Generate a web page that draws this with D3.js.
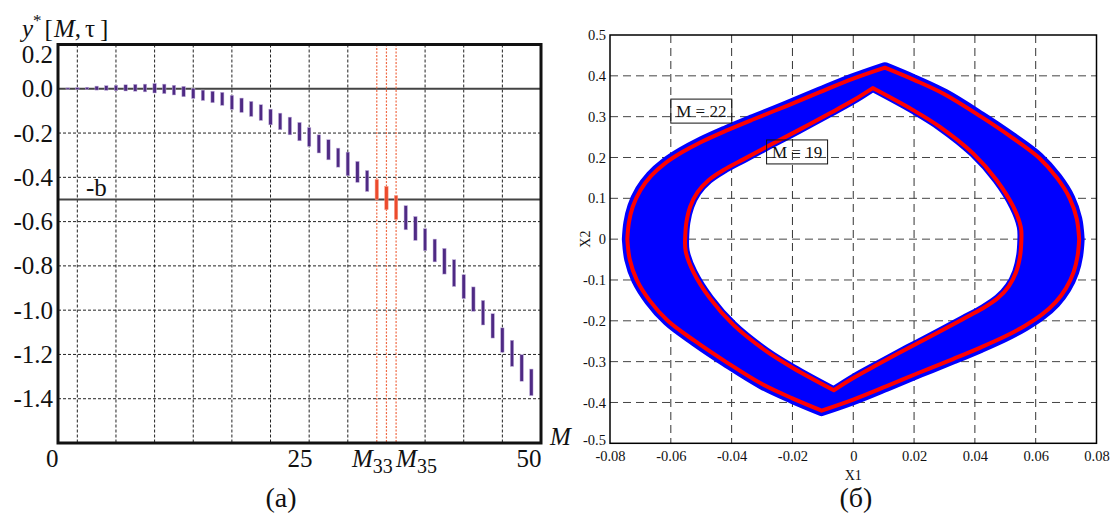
<!DOCTYPE html>
<html>
<head>
<meta charset="utf-8">
<title>y*[M,tau] and phase portrait</title>
<style>
  body { margin: 0; background: #fff; }
  svg text { font-family: "Liberation Serif", "Times New Roman", serif; fill: #111; }
</style>
</head>
<body>
<svg id="chart" width="1112" height="516"></svg>
<script src="https://cdn.jsdelivr.net/npm/d3@7"></script>
<script>
// ---------- panel (a): y*[M,tau] intervals ----------
var mIndex = [1,2,3,4,5,6,7,8,9,10,11,12,13,14,15,16,17,18,19,20,21,22,23,24,25,
              26,27,28,29,30,31,32,33,34,35,36,37,38,39,40,41,42,43,44,45,46,47,48,49];
var yLow  = [-0.002,-0.003,-0.003,-0.006,-0.007,-0.009,-0.010,-0.011,-0.014,-0.019,
             -0.022,-0.028,-0.036,-0.044,-0.053,-0.063,-0.075,-0.093,-0.107,-0.125,
             -0.143,-0.163,-0.185,-0.208,-0.235,-0.260,-0.290,-0.321,-0.354,-0.393,
             -0.423,-0.464,-0.501,-0.546,-0.590,-0.637,-0.685,-0.731,-0.782,-0.837,
             -0.893,-0.948,-1.005,-1.067,-1.126,-1.190,-1.254,-1.321,-1.386];
var yHigh = [0.004,0.005,0.007,0.012,0.014,0.016,0.018,0.020,0.021,0.024,
             0.021,0.016,0.011,0.002,-0.006,-0.011,-0.016,-0.030,-0.042,-0.057,
             -0.072,-0.092,-0.110,-0.128,-0.152,-0.175,-0.208,-0.230,-0.268,-0.286,
             -0.328,-0.369,-0.410,-0.441,-0.483,-0.528,-0.577,-0.632,-0.679,-0.721,
             -0.772,-0.840,-0.895,-0.956,-1.016,-1.080,-1.136,-1.201,-1.266];
var redM = [33, 34, 35];
var gridM = [2,6,10,14,18,22,26,30,34,38,42,46];
var gridYa = [-0.2,-0.4,-0.6,-0.8,-1.0,-1.2,-1.4];
var solidYa = [0, -0.5];
var yTicksA = [0.2,0.0,-0.2,-0.4,-0.6,-0.8,-1.0,-1.2,-1.4];
var xTicksA = [0, 25, 50];

// ---------- panel (б): phase portrait, M = 22 (outer) and M = 19 (inner) ----------
var outer22 = [
  [[-0.0743,0],[-0.0738,0.04],[-0.0725,0.08],[-0.0700,0.12],[-0.0665,0.155],[-0.0620,0.185],
   [-0.0565,0.212],[-0.0500,0.238],[-0.0420,0.265],[-0.0330,0.293],[-0.0220,0.326],[-0.0110,0.360],
   [0.0000,0.393],[0.0104,0.420]],
  [[0.0104,0.420],[0.020,0.390],[0.030,0.355],[0.042,0.300],[0.052,0.250],[0.061,0.200],
   [0.067,0.150],[0.0712,0.100],[0.0735,0.050],[0.0743,0]],
  [[0.0743,0],[0.0738,-0.04],[0.0725,-0.08],[0.0700,-0.12],[0.0665,-0.155],[0.0620,-0.185],
   [0.0565,-0.212],[0.0500,-0.238],[0.0420,-0.265],[0.0330,-0.293],[0.0220,-0.326],[0.0110,-0.360],
   [0.0000,-0.393],[-0.0104,-0.420]],
  [[-0.0104,-0.420],[-0.020,-0.390],[-0.030,-0.355],[-0.042,-0.300],[-0.052,-0.250],[-0.061,-0.200],
   [-0.067,-0.150],[-0.0712,-0.100],[-0.0735,-0.050],[-0.0743,0]]
];
var inner19 = [
  [[-0.0553,0],[-0.0549,0.04],[-0.0536,0.08],[-0.0512,0.115],[-0.0475,0.145],[-0.0425,0.170],
   [-0.0360,0.196],[-0.0280,0.228],[-0.0180,0.267],[-0.0080,0.307],[0.0000,0.340],[0.0064,0.370]],
  [[0.0064,0.370],[0.0197,0.316],[0.0285,0.275],[0.0394,0.210],[0.0471,0.145],[0.0526,0.080],
   [0.0551,0.030],[0.0553,0]],
  [[0.0553,0],[0.0549,-0.04],[0.0536,-0.08],[0.0512,-0.115],[0.0475,-0.145],[0.0425,-0.170],
   [0.0360,-0.196],[0.0280,-0.228],[0.0180,-0.267],[0.0080,-0.307],[0.0000,-0.340],[-0.0064,-0.370]],
  [[-0.0064,-0.370],[-0.0197,-0.316],[-0.0285,-0.275],[-0.0394,-0.210],[-0.0471,-0.145],[-0.0526,-0.080],
   [-0.0551,-0.030],[-0.0553,0]]
];
var xTicksB = [-0.08,-0.06,-0.04,-0.02,0,0.02,0.04,0.06,0.08];
var yTicksB = [0.5,0.4,0.3,0.2,0.1,0,-0.1,-0.2,-0.3,-0.4,-0.5];
var boxLabels = [ {text: 'M = 22', x: -0.06, y: 0.343}, {text: 'M = 19', x: -0.0285, y: 0.243} ];

var serif = '"Liberation Serif", "Times New Roman", serif';
var svg = d3.select('#chart');

// ===== panel (a) =====
var xa = d3.scaleLinear().domain([0, 50]).range([58, 541]);
var ya = d3.scaleLinear().domain([-1.6, 0.2]).range([443, 44.5]);
var ga = svg.append('g');

ga.selectAll('.vg').data(gridM.filter(function(d){ return redM.indexOf(d) < 0; })).enter().append('line')
  .attr('x1', function(d){ return xa(d); }).attr('x2', function(d){ return xa(d); })
  .attr('y1', ya(0.2)).attr('y2', ya(-1.6))
  .attr('stroke', '#222').attr('stroke-width', 1).attr('stroke-dasharray', '3,2');

ga.selectAll('.hg').data(gridYa).enter().append('line')
  .attr('x1', xa(0)).attr('x2', xa(50))
  .attr('y1', function(d){ return ya(d); }).attr('y2', function(d){ return ya(d); })
  .attr('stroke', '#222').attr('stroke-width', 1).attr('stroke-dasharray', '3,2');

ga.selectAll('.hs').data(solidYa).enter().append('line')
  .attr('x1', xa(0)).attr('x2', xa(50))
  .attr('y1', function(d){ return ya(d); }).attr('y2', function(d){ return ya(d); })
  .attr('stroke', '#444').attr('stroke-width', 2);

ga.selectAll('.rv').data(redM).enter().append('line')
  .attr('x1', function(d){ return xa(d); }).attr('x2', function(d){ return xa(d); })
  .attr('y1', ya(0.2)).attr('y2', ya(-1.6))
  .attr('stroke', '#f06a45').attr('stroke-width', 1.2).attr('stroke-dasharray', '2,1.5');

ga.selectAll('.bar').data(mIndex).enter().append('rect')
  .attr('x', function(d){ return xa(d) - 1.7; })
  .attr('width', 3.4)
  .attr('y', function(d, i){ return ya(yHigh[i]); })
  .attr('height', function(d, i){ return Math.max(1, ya(yLow[i]) - ya(yHigh[i])); })
  .attr('fill', function(d){ return redM.indexOf(d) >= 0 ? '#ec4a2c' : '#4f2a84'; })
  .attr('stroke', function(d){ return redM.indexOf(d) >= 0 ? '#f7a08c' : '#c4b3dd'; })
  .attr('stroke-width', 0.5);

ga.append('rect')
  .attr('x', xa(0)).attr('y', ya(0.2))
  .attr('width', xa(50) - xa(0)).attr('height', ya(-1.6) - ya(0.2))
  .attr('fill', 'none').attr('stroke', '#111').attr('stroke-width', 3);

var yAxA = ga.append('g').attr('transform', 'translate(' + xa(0) + ',0)')
  .call(d3.axisLeft(ya).tickValues(yTicksA).tickSize(0).tickPadding(5)
        .tickFormat(function(d){ return d.toFixed(1); }));
yAxA.select('.domain').remove();
yAxA.selectAll('text').style('font-size', '25px').style('fill', '#111').style('font-family', serif);
yAxA.selectAll('.tick').filter(function(d){ return d === 0.2; }).select('text').attr('dy', '0.7em');

var xAxA = ga.append('g').attr('transform', 'translate(0,' + ya(-1.6) + ')')
  .call(d3.axisBottom(xa).tickValues(xTicksA).tickSize(0).tickPadding(6));
xAxA.select('.domain').remove();
xAxA.selectAll('text').style('font-size', '25px').style('fill', '#111').style('font-family', serif)
  .attr('text-anchor', function(d){ return d === 25 ? 'middle' : 'end'; });

// M_33 and M_35 labels
var m33 = ga.append('text').attr('x', xa(33) + 16).attr('y', 467).attr('text-anchor', 'end')
  .style('font-size', '25px');
m33.append('tspan').attr('font-style', 'italic').text('M');
m33.append('tspan').attr('dy', 6).style('font-size', '20px').text('33');
var m35 = ga.append('text').attr('x', xa(35)).attr('y', 467).style('font-size', '25px');
m35.append('tspan').attr('font-style', 'italic').text('M');
m35.append('tspan').attr('dy', 6).style('font-size', '20px').text('35');

ga.append('text').attr('x', xa(50) + 9).attr('y', 445)
  .attr('font-style', 'italic').style('font-size', '25px').text('M');

ga.append('text').attr('x', xa(2.9)).attr('y', ya(-0.5) - 3)
  .style('font-size', '25px').text('-b');

var title = ga.append('text').attr('x', 22).attr('y', 37).style('font-size', '25px');
title.append('tspan').attr('font-style', 'italic').text('y');
title.append('tspan').attr('dy', -11).style('font-size', '17px').text('*');
title.append('tspan').attr('dy', 11).attr('dx', 3).text('[');
title.append('tspan').attr('font-style', 'italic').attr('dx', 1).text('M');
title.append('tspan').text(',');
title.append('tspan').attr('dx', 4).text('\u03c4');
title.append('tspan').attr('dx', 5).text(']');

ga.append('text').attr('x', 281).attr('y', 507).attr('text-anchor', 'middle')
  .style('font-size', '28px').text('(a)');

// ===== panel (б) =====
var xb = d3.scaleLinear().domain([-0.08, 0.08]).range([610, 1096.5]);
var yb = d3.scaleLinear().domain([-0.5, 0.5]).range([443.3, 35]);
var gb = svg.append('g');

gb.selectAll('.vgb').data(xTicksB.slice(1, -1)).enter().append('line')
  .attr('x1', function(d){ return xb(d); }).attr('x2', function(d){ return xb(d); })
  .attr('y1', yb(0.5)).attr('y2', yb(-0.5))
  .attr('stroke', '#333').attr('stroke-width', 1).attr('stroke-dasharray', '8,5');
gb.selectAll('.hgb').data(yTicksB.slice(1, -1)).enter().append('line')
  .attr('x1', xb(-0.08)).attr('x2', xb(0.08))
  .attr('y1', function(d){ return yb(d); }).attr('y2', function(d){ return yb(d); })
  .attr('stroke', '#444').attr('stroke-width', 1).attr('stroke-dasharray', '8,5');

var curve = d3.line()
  .x(function(d){ return xb(d[0]); })
  .y(function(d){ return yb(d[1]); })
  .curve(d3.curveCatmullRom.alpha(0.5));

function loopPath(arcs) {
  return arcs.map(function(a, i){
    var p = curve(a);
    return i === 0 ? p : p.replace(/^M/, 'L');
  }).join('') + 'Z';
}
var outerD = loopPath(outer22);
var innerD = loopPath(inner19);

gb.append('path').attr('d', outerD + innerD)
  .attr('fill', '#0000ff').attr('fill-rule', 'evenodd')
  .attr('stroke', 'none');
gb.append('path').attr('d', outerD).attr('fill', 'none')
  .attr('stroke', '#0000ff').attr('stroke-width', 11).attr('stroke-linejoin', 'round');
gb.append('path').attr('d', innerD).attr('fill', 'none')
  .attr('stroke', '#0000ff').attr('stroke-width', 8).attr('stroke-linejoin', 'round');
gb.append('path').attr('d', outerD).attr('fill', 'none')
  .attr('stroke', '#ff0000').attr('stroke-width', 4).attr('stroke-linejoin', 'round');
gb.append('path').attr('d', innerD).attr('fill', 'none')
  .attr('stroke', '#ff0000').attr('stroke-width', 4).attr('stroke-linejoin', 'round');

gb.append('rect')
  .attr('x', xb(-0.08)).attr('y', yb(0.5))
  .attr('width', xb(0.08) - xb(-0.08)).attr('height', yb(-0.5) - yb(0.5))
  .attr('fill', 'none').attr('stroke', '#000').attr('stroke-width', 1.5);

var fmtB = function(d){ return String(+d.toFixed(2)); };
var yAxB = gb.append('g').attr('transform', 'translate(' + xb(-0.08) + ',0)')
  .call(d3.axisLeft(yb).tickValues(yTicksB).tickSize(0).tickPadding(4).tickFormat(fmtB));
yAxB.select('.domain').remove();
yAxB.selectAll('text').style('font-size', '14.5px').style('fill', '#111').style('font-family', serif);
yAxB.selectAll('.tick').filter(function(d){ return d === -0.5; }).select('text').attr('dy', '0.1em');

var xAxB = gb.append('g').attr('transform', 'translate(0,' + yb(-0.5) + ')')
  .call(d3.axisBottom(xb).tickValues(xTicksB).tickSize(0).tickPadding(7).tickFormat(fmtB));
xAxB.select('.domain').remove();
xAxB.selectAll('text').style('font-size', '14.5px').style('fill', '#111').style('font-family', serif);

gb.append('text').attr('x', xb(0)).attr('y', 480).attr('text-anchor', 'middle')
  .style('font-size', '14px').text('X1');
gb.append('text').attr('transform', 'translate(590,' + yb(0) + ') rotate(-90)')
  .attr('text-anchor', 'middle').style('font-size', '14px').text('X2');

var bl = gb.selectAll('.bl').data(boxLabels).enter().append('g');
bl.append('rect')
  .attr('x', function(d){ return xb(d.x); }).attr('y', function(d){ return yb(d.y); })
  .attr('width', 61).attr('height', 24)
  .attr('fill', 'none').attr('stroke', '#111').attr('stroke-width', 1);
bl.append('text')
  .attr('x', function(d){ return xb(d.x) + 30.5; }).attr('y', function(d){ return yb(d.y) + 18; })
  .attr('text-anchor', 'middle').style('font-size', '17px')
  .text(function(d){ return d.text; });

gb.append('text').attr('x', 856).attr('y', 507).attr('text-anchor', 'middle')
  .style('font-size', '28px').text('(\u0431)');
</script>
</body>
</html>
